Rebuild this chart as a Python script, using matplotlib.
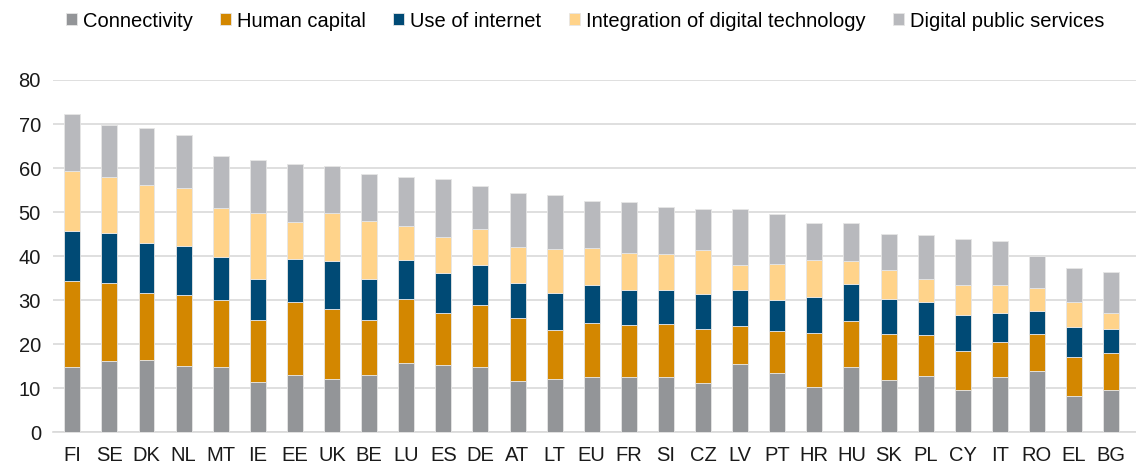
import numpy as np
import matplotlib.pyplot as plt

plt.rcParams['font.family'] = ['Liberation Sans', 'DejaVu Sans']

countries = ['FI', 'SE', 'DK', 'NL', 'MT', 'IE', 'EE', 'UK', 'BE', 'LU', 'ES', 'DE',
             'AT', 'LT', 'EU', 'FR', 'SI', 'CZ', 'LV', 'PT', 'HR', 'HU', 'SK', 'PL',
             'CY', 'IT', 'RO', 'EL', 'BG']

connectivity = [14.8, 16.1, 16.4, 15.0, 14.8, 11.4, 12.9, 12.2, 12.9, 15.8, 15.2, 14.8,
                11.7, 12.2, 12.5, 12.5, 12.5, 11.2, 15.4, 13.4, 10.2, 14.9, 11.8, 12.8,
                9.5, 12.5, 14.0, 8.3, 9.5]
human_capital = [19.6, 17.9, 15.3, 16.1, 15.3, 14.1, 16.6, 15.7, 12.7, 14.5, 11.8, 14.1,
                 14.3, 11.0, 12.3, 11.8, 12.1, 12.2, 8.8, 9.5, 12.4, 10.4, 10.5, 9.3,
                 9.0, 8.0, 8.3, 8.7, 8.5]
use_of_internet = [11.4, 11.3, 11.3, 11.2, 9.8, 9.2, 9.9, 11.0, 9.1, 8.8, 9.1, 9.2,
                   8.0, 8.5, 8.7, 7.9, 7.8, 8.0, 8.0, 7.2, 8.2, 8.4, 8.0, 7.4,
                   8.1, 6.7, 5.3, 6.8, 5.5]
integration = [13.5, 12.6, 13.1, 13.2, 11.0, 15.0, 8.3, 10.8, 13.2, 7.7, 8.3, 8.0,
               8.1, 9.9, 8.3, 8.5, 8.1, 10.0, 5.7, 8.2, 8.3, 5.1, 6.6, 5.3,
               6.9, 6.3, 5.1, 5.8, 3.7]
public_services = [13.0, 11.9, 13.0, 12.1, 11.8, 12.1, 13.3, 10.7, 10.8, 11.1, 13.1, 9.9,
                   12.2, 12.2, 10.7, 11.5, 10.7, 9.3, 12.8, 11.2, 8.4, 8.7, 8.2, 10.1,
                   10.4, 10.0, 7.3, 7.6, 9.2]

series = [
    ('Connectivity', connectivity, '#939598'),
    ('Human capital', human_capital, '#d38700'),
    ('Use of internet', use_of_internet, '#004a75'),
    ('Integration of digital technology', integration, '#ffd38a'),
    ('Digital public services', public_services, '#b8b9bd'),
]

fig = plt.figure(figsize=(11.36, 4.67), dpi=100)
ax = fig.add_axes([0.047, 0.0743, 0.953, 0.7544])

x = np.arange(len(countries))
bottom = np.zeros(len(countries))
handles = []
for name, vals, color in series:
    b = ax.bar(x, vals, 0.43, bottom=bottom, color=color, label=name,
               edgecolor='#e6e6e6', linewidth=0.6, zorder=3)
    bottom += np.array(vals)
    handles.append(b)

ax.set_xlim(-0.51, 28.67)
ax.set_ylim(0, 80)
ax.set_yticks(range(0, 81, 10))
ax.set_xticks(x)
ax.set_xticklabels(countries)
ax.tick_params(axis='both', length=0, labelsize=14.5, colors='#1a1a1a')
ax.tick_params(axis='x', pad=10)
ax.tick_params(axis='y', pad=9)
ax.yaxis.grid(True, color='#d9d9d9', linewidth=1.2, zorder=0)
for s in ['top', 'right', 'left']:
    ax.spines[s].set_visible(False)
ax.spines['bottom'].set_color('#d9d9d9')
ax.spines['bottom'].set_linewidth(1.2)

fig.legend(handles=handles, loc='center', bbox_to_anchor=(0.515, 0.955), ncol=5,
           frameon=False, fontsize=14.5, handlelength=0.55, handleheight=0.55,
           handletextpad=0.3, columnspacing=1.35)

fig.savefig('out.png', dpi=100)
